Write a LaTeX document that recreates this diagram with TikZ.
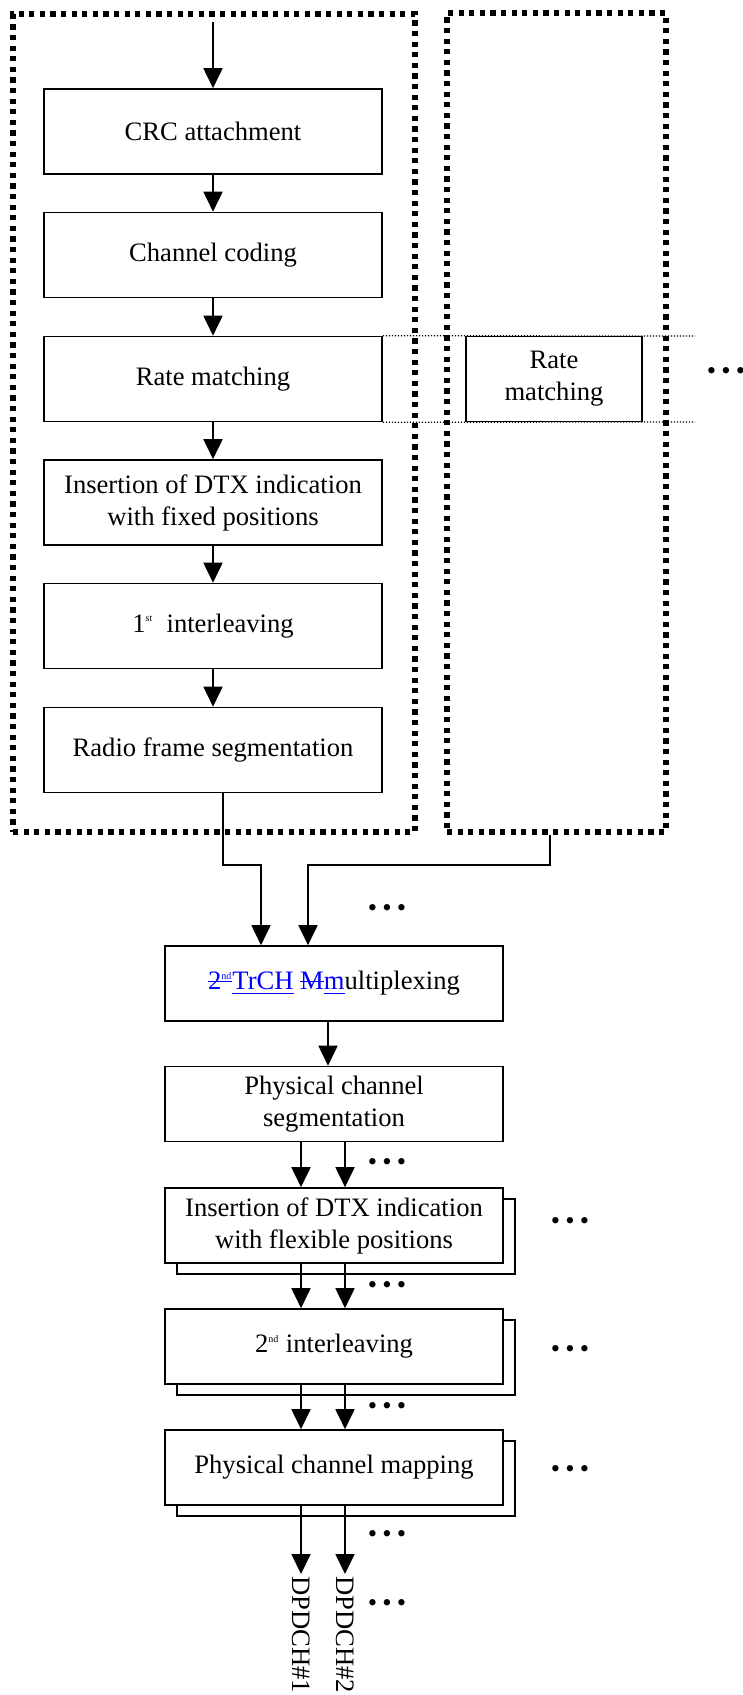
\documentclass[tikz,border=0pt]{standalone}
\usepackage{fontspec}
\setmainfont{Liberation Serif}
\usepackage{tikz}
\usetikzlibrary{arrows.meta}

\tikzset{
    stage/.style={draw, line width=0.8pt, fill=white, align=center, inner sep=2pt,
        minimum width=169pt, minimum height=42.5pt},
    lowstage/.style={stage, minimum height=37.5pt},
    group/.style={draw, line width=2.6pt, dash pattern=on 2.6pt off 2.7pt},
    guide/.style={line width=0.6pt, dash pattern=on 0.6pt off 0.9pt},
    arr/.style={line width=0.9pt, -{Triangle[length=10pt,width=9.5pt]}},
    more/.style={inner sep=0pt}
}
\newcommand{\moredots}{\textbullet\hspace{2.6pt}\textbullet\hspace{2.6pt}\textbullet}
\newlength{\marklen}
\newcommand{\strk}[1]{\settowidth{\marklen}{#1}\rlap{\rule[0.3em]{\marklen}{0.6pt}}#1}
\newcommand{\ulin}[1]{\settowidth{\marklen}{#1}\rlap{\rule[-0.15em]{\marklen}{0.6pt}}#1}

\begin{document}
\begin{tikzpicture}[x=0.5pt, y=-0.5pt, font=\fontsize{13.3}{16}\selectfont]
                \useasboundingbox (0,0) rectangle (743,1695);

                % Groups
                \node[group, minimum width=201pt, minimum height=409pt] (grpA) at (214,423) {};
                \node[group, minimum width=109.5pt, minimum height=409.5pt] (grpB) at (556.5,422.5) {};

                % Nodes
                \coordinate (in) at (213,22);
                \node[stage] (crc) at (213,131.5) {CRC attachment};
                \node[stage] (cod) at (213,255) {Channel coding};
                \node[stage] (rm) at (213,379) {Rate matching};
                \node[stage] (dtx1) at (213,502.5) {Insertion of DTX indication\\with fixed positions};
                \node[stage] (il1) at (213,626) {1\textsuperscript{\tiny st}\ \ interleaving};
                \node[stage] (rfs) at (213,750) {Radio frame segmentation};
                \node[stage, minimum width=88pt] (rmB) at (554,379) {Rate\\matching};

                \coordinate (j1) at (261,865);
                \coordinate (j2) at (308,865);
                \node[lowstage] (mux) at (334,983.5) {\textcolor{blue}{\strk{2\textsuperscript{\tiny nd}}\ulin{TrCH} \strk{M}\ulin{m}}ultiplexing};
                \node[lowstage] (pcs) at (334,1104) {Physical channel\\segmentation};
                \node[lowstage] (dtx2b) at (346,1236.5) {};
                \node[lowstage] (dtx2) at (334,1225.5) {Insertion of DTX indication\\with flexible positions};
                \node[lowstage] (il2b) at (346,1357.5) {};
                \node[lowstage] (il2) at (334,1346.5) {2\textsuperscript{\tiny nd} interleaving};
                \node[lowstage] (pcmb) at (346,1478.5) {};
                \node[lowstage] (pcm) at (334,1467.5) {Physical channel mapping};
                \node[anchor=west, rotate=-90, inner sep=1pt] (dp1) at (301,1574) {DPDCH\#1};
                \node[anchor=west, rotate=-90, inner sep=1pt] (dp2) at (345,1574) {DPDCH\#2};

                % Dots
                \node[more] (m0) at (726,374) {\moredots};
                \node[more] (m1) at (387,911) {\moredots};
                \node[more] (m2) at (387,1164) {\moredots};
                \node[more] (m3) at (570,1223) {\moredots};
                \node[more] (m4) at (387,1287) {\moredots};
                \node[more] (m5) at (570,1351) {\moredots};
                \node[more] (m6) at (387,1408) {\moredots};
                \node[more] (m7) at (570,1471) {\moredots};
                \node[more] (m8) at (387,1536) {\moredots};
                \node[more] (m9) at (387,1605) {\moredots};

                % Edges
                \draw[guide] (rm.north east) -- (695,336);
                \draw[guide] (rm.south east) -- (695,422);
                \draw[arr] (in)--(crc);
                \draw[arr] (crc)--(cod);
                \draw[arr] (cod)--(rm);
                \draw[arr] (rm)--(dtx1);
                \draw[arr] (dtx1)--(il1);
                \draw[arr] (il1)--(rfs);
                \draw[arr] ([xshift=5pt]rfs.south) |- (j1) -- (mux.north -| j1);
                \draw[arr] (grpB.south -| 550,0) |- (j2) -- (mux.north -| j2);
                \draw[arr] (mux.south -| 328,0) -- (pcs.north -| 328,0);
                \foreach \a/\b in {pcs/dtx2, dtx2/il2, il2/pcm} {
                    \draw[arr] (\a.south -| dp1.west) -- (\b.north -| dp1.west);
                    \draw[arr] (\a.south -| dp2.west) -- (\b.north -| dp2.west);
                }
                \draw[arr] (pcm.south -| dp1.west) -- (dp1.west);
                \draw[arr] (pcm.south -| dp2.west) -- (dp2.west);
            \end{tikzpicture}
\end{document}
